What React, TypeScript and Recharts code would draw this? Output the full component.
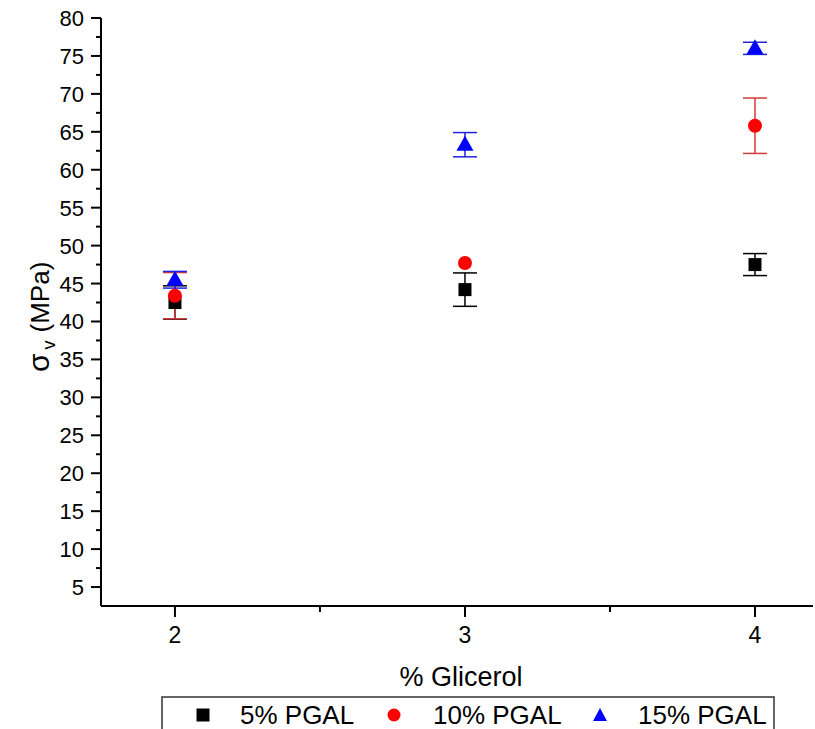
import {
  ScatterChart,
  Scatter,
  XAxis,
  YAxis,
  ErrorBar,
} from "recharts";

const glycerol = [2, 3, 4];
const pgal5 = [42.5, 44.2, 47.5];
const pgal5Err = [2.2, 2.2, 1.45];
const pgal10 = [43.4, 47.7, 65.8];
const pgal10Err = [3.05, 0, 3.65];
const pgal15 = [45.5, 63.3, 76.0];
const pgal15Err = [1.1, 1.6, 0.8];

const xTicks = [2, 2.5, 3, 3.5, 4];
const xLabels = ["2", "", "3", "", "4"];
const yTicks = [
  5, 7.5, 10, 12.5, 15, 17.5, 20, 22.5, 25, 27.5, 30, 32.5, 35, 37.5, 40,
  42.5, 45, 47.5, 50, 52.5, 55, 57.5, 60, 62.5, 65, 67.5, 70, 72.5, 75, 77.5,
  80,
];
const seriesNames = ["5% PGAL", "10% PGAL", "15% PGAL"];

const FONT = "Arial, 'Liberation Sans', sans-serif";

const toPoints = (ys: number[], errs: number[]) =>
  glycerol.map((x, i) => ({ x, y: ys[i], err: errs[i] }));

const data5 = toPoints(pgal5, pgal5Err);
const data10 = toPoints(pgal10, pgal10Err);
const data15 = toPoints(pgal15, pgal15Err);

const Square = (p: any) => (
  <rect x={p.cx - 6.5} y={p.cy - 6.5} width={13} height={13} fill="#000" />
);
const Dot = (p: any) => <circle cx={p.cx} cy={p.cy} r={7} fill="#ff0000" />;
const Tri = (p: any) => (
  <polygon
    points={`${p.cx},${p.cy - 9} ${p.cx - 8.5},${p.cy + 6} ${p.cx + 8.5},${p.cy + 6}`}
    fill="#0000ff"
  />
);

function YTick({ x, y, payload }: any) {
  const major = payload.value % 5 === 0;
  return (
    <g>
      <line x1={x - (major ? 10 : 5)} x2={x} y1={y} y2={y} stroke="#000" strokeWidth={2} />
      {major && (
        <text x={x - 17} y={y + 8} textAnchor="end" fontSize={22} fontFamily={FONT} fill="#000">
          {payload.value}
        </text>
      )}
    </g>
  );
}

function XTick({ x, y, index }: any) {
  const label = xLabels[index];
  return (
    <g>
      <line x1={x} x2={x} y1={y} y2={y + (label ? 11 : 6)} stroke="#000" strokeWidth={2} />
      {label && (
        <text x={x} y={y + 37} textAnchor="middle" fontSize={23} fontFamily={FONT} fill="#000">
          {label}
        </text>
      )}
    </g>
  );
}

function LegendBox() {
  return (
    <svg
      width={815}
      height={729}
      style={{ position: "absolute", left: 0, top: 0, pointerEvents: "none" }}
    >
      <rect x={162} y={697} width={612} height={40} fill="#fff" stroke="#333" strokeWidth={1.5} />
      <rect x={196.5} y={708.5} width={13} height={13} fill="#000" />
      <circle cx={394} cy={715} r={6.5} fill="#ff0000" />
      <polygon points="600,708 593,721 607,721" fill="#0000ff" />
      <g fontFamily={FONT} fontSize={26} fill="#000">
        <text x={240} y={724}>{seriesNames[0]}</text>
        <text x={433} y={724}>{seriesNames[1]}</text>
        <text x={638} y={724}>{seriesNames[2]}</text>
      </g>
    </svg>
  );
}

export default function App() {
  return (
    <div style={{ position: "relative", width: 815, height: 729, overflow: "hidden", background: "#fff" }}>
      <style>{"body{margin:0}"}</style>
      <ScatterChart
        width={815}
        height={729}
        margin={{ top: 18, right: 2, left: 0, bottom: 63 }}
      >
        <XAxis
          type="number"
          dataKey="x"
          domain={[1.745, 4.2]}
          ticks={xTicks}
          tick={<XTick />}
          tickLine={false}
          tickSize={0}
          tickMargin={0}
          height={60}
          axisLine={{ stroke: "#000", strokeWidth: 2 }}
          allowDataOverflow
          label={{
            value: "% Glicerol",
            position: "insideBottom",
            content: () => (
              <text x={461} y={686} textAnchor="middle" fontSize={27} fontFamily={FONT} fill="#000">
                % Glicerol
              </text>
            ),
          }}
        />
        <YAxis
          type="number"
          dataKey="y"
          domain={[2.5, 80]}
          ticks={yTicks}
          tick={<YTick />}
          tickLine={false}
          tickSize={0}
          tickMargin={0}
          width={101}
          interval={0}
          axisLine={{ stroke: "#000", strokeWidth: 2 }}
          allowDataOverflow
          label={{
            value: "σv (MPa)",
            position: "insideLeft",
            content: () => (
              <text
                transform="translate(49,372) rotate(-90)"
                textAnchor="start"
                fontSize={26}
                fontFamily={FONT}
                fill="#000"
              >
                <tspan fontSize={30}>σ</tspan>
                <tspan fontSize={18} dx={4} dy={6}>v</tspan>
                <tspan dx={8} dy={-6}>(MPa)</tspan>
              </text>
            ),
          }}
        />
        <Scatter data={data5} shape={Square} isAnimationActive={false}>
          <ErrorBar dataKey="err" direction="y" width={12} stroke="#000" strokeWidth={1.5} />
        </Scatter>
        <Scatter data={data10} shape={Dot} isAnimationActive={false}>
          <ErrorBar dataKey="err" direction="y" width={12} stroke="#d43a3a" strokeWidth={1.5} />
        </Scatter>
        <Scatter data={data15} shape={Tri} isAnimationActive={false}>
          <ErrorBar dataKey="err" direction="y" width={12} stroke="#2020e0" strokeWidth={1.5} />
        </Scatter>
      </ScatterChart>
      <LegendBox />
    </div>
  );
}
